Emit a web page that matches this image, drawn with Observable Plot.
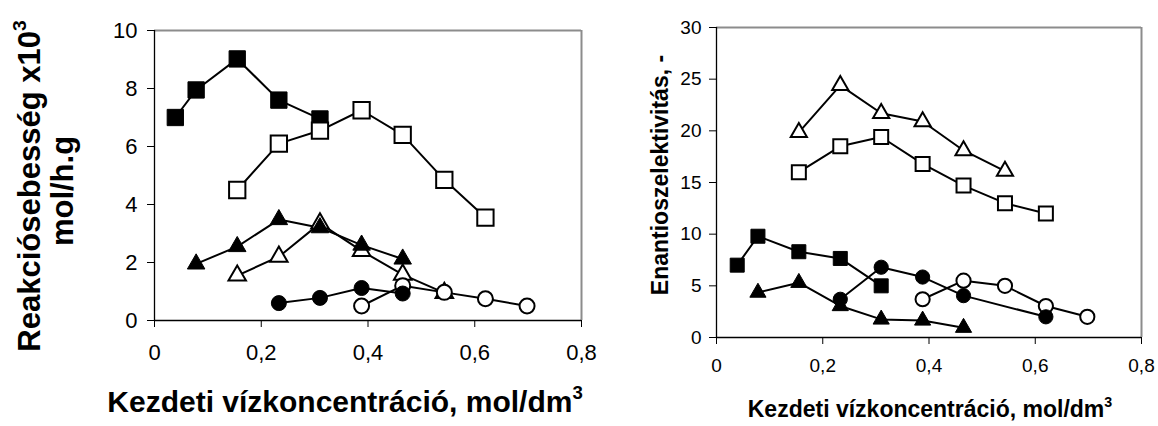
<!DOCTYPE html>
<html>
<head>
<meta charset="utf-8">
<script src="https://cdn.jsdelivr.net/npm/d3@7"></script>
<script src="https://cdn.jsdelivr.net/npm/@observablehq/plot@0.6"></script>
<style>
  html, body { margin: 0; padding: 0; background: #fff; }
  #wrap { position: relative; width: 1158px; height: 426px; overflow: hidden; }
  #left, #right { position: absolute; top: 0; }
  #left { left: 0; }
  #right { left: 600px; }
  svg text { font-family: "Liberation Sans", Arial, sans-serif; }
</style>
</head>
<body>
<div id="wrap"><div id="left"></div><div id="right"></div></div>
<script>
// ---- shared axis ticks ----
const xTicks = [0, 0.2, 0.4, 0.6, 0.8];
const xTickLabels = ["0", "0,2", "0,4", "0,6", "0,8"];
const rateTicks = [0, 2, 4, 6, 8, 10];
const selTicks = [0, 5, 10, 15, 20, 25, 30];

// ---- left panel: Reakciósebesség x10^3 (mol/h.g) ----
const rateFilledSquareX = [0.039, 0.078, 0.155, 0.233, 0.31];
const rateFilledSquareY = [7.0, 7.95, 9.02, 7.6, 6.95];
const rateOpenSquareX = [0.155, 0.233, 0.31, 0.388, 0.465, 0.543, 0.62];
const rateOpenSquareY = [4.5, 6.1, 6.55, 7.25, 6.4, 4.85, 3.55];
const rateFilledTriangleX = [0.078, 0.155, 0.233, 0.31, 0.388, 0.465];
const rateFilledTriangleY = [1.95, 2.55, 3.48, 3.2, 2.6, 2.12];
const rateOpenTriangleX = [0.155, 0.233, 0.31, 0.388, 0.465, 0.543];
const rateOpenTriangleY = [1.55, 2.2, 3.35, 2.4, 1.58, 0.95];
const rateFilledCircleX = [0.233, 0.31, 0.388, 0.465];
const rateFilledCircleY = [0.6, 0.78, 1.12, 0.93];
const rateOpenCircleX = [0.388, 0.465, 0.543, 0.62, 0.698];
const rateOpenCircleY = [0.5, 1.2, 0.97, 0.75, 0.5];

// ---- right panel: Enantioszelektivitás ----
const selOpenTriangleX = [0.155, 0.233, 0.31, 0.388, 0.465, 0.543];
const selOpenTriangleY = [19.85, 24.4, 21.7, 20.9, 18.1, 16.1];
const selOpenSquareX = [0.155, 0.233, 0.31, 0.388, 0.465, 0.543, 0.62];
const selOpenSquareY = [16.0, 18.5, 19.4, 16.8, 14.7, 13.0, 12.0];
const selFilledSquareX = [0.039, 0.078, 0.155, 0.233, 0.31];
const selFilledSquareY = [7.0, 9.8, 8.3, 7.65, 5.0];
const selFilledCircleX = [0.233, 0.31, 0.388, 0.465, 0.62];
const selFilledCircleY = [3.7, 6.8, 5.85, 4.05, 2.0];
const selOpenCircleX = [0.388, 0.465, 0.543, 0.62, 0.698];
const selOpenCircleY = [3.7, 5.5, 5.0, 3.05, 2.0];
const selFilledTriangleX = [0.078, 0.155, 0.233, 0.31, 0.388, 0.465];
const selFilledTriangleY = [4.35, 5.3, 3.05, 1.75, 1.65, 0.95];

const zip = (xs, ys) => xs.map((x, i) => ({x, y: ys[i]}));

function seriesMarks(list, sizes) {
  const marks = [];
  for (const s of list) {
    marks.push(Plot.line(s.data, {x: "x", y: "y", stroke: "#000", strokeWidth: 2}));
  }
  for (const s of list) {
    const filled = s.filled;
    marks.push(Plot.dot(s.data, {
      x: "x", y: "y", symbol: s.symbol, r: sizes[s.symbol],
      fill: filled ? "#000" : "#fff", stroke: "#000",
      strokeWidth: filled ? 1 : 2, strokeLinejoin: "miter"
    }));
  }
  return marks;
}

function panel({width, height, ml, mr, mt, mb, yDomain, yTicks, data, sizes, fs}) {
  return Plot.plot({
    width, height,
    marginLeft: ml, marginRight: mr, marginTop: mt, marginBottom: mb,
    style: {fontFamily: "Liberation Sans, Arial, sans-serif", background: "#fff", overflow: "visible"},
    x: {domain: [0, 0.8]},
    y: {domain: yDomain},
    marks: [
      Plot.ruleY([yDomain[1]], {stroke: "#8c8c8c", strokeWidth: 2}),
      Plot.ruleX([0.8], {stroke: "#8c8c8c", strokeWidth: 2}),
      Plot.ruleX([0], {stroke: "#000", strokeWidth: 1.3}),
      Plot.ruleY([0], {stroke: "#000", strokeWidth: 1.3}),
      Plot.axisX({ticks: xTicks, tickFormat: (d, i) => xTickLabels[i], tickSize: 7, tickPadding: fs.xpad,
        fontSize: fs.tick, label: null, stroke: "#000"}),
      Plot.axisY({ticks: yTicks, tickFormat: d => String(d), tickSize: 7, tickPadding: fs.ypad,
        fontSize: fs.tick, label: null, stroke: "#000"}),
      ...seriesMarks(data, sizes)
    ]
  });
}

const leftData = [
  {data: zip(rateFilledSquareX, rateFilledSquareY), symbol: "square", filled: true},
  {data: zip(rateOpenSquareX, rateOpenSquareY), symbol: "square", filled: false},
  {data: zip(rateOpenTriangleX, rateOpenTriangleY), symbol: "triangle", filled: false},
  {data: zip(rateFilledTriangleX, rateFilledTriangleY), symbol: "triangle", filled: true},
  {data: zip(rateOpenCircleX, rateOpenCircleY), symbol: "circle", filled: false},
  {data: zip(rateFilledCircleX, rateFilledCircleY), symbol: "circle", filled: true}
];
const rightData = [
  {data: zip(selOpenTriangleX, selOpenTriangleY), symbol: "triangle", filled: false},
  {data: zip(selOpenSquareX, selOpenSquareY), symbol: "square", filled: false},
  {data: zip(selFilledSquareX, selFilledSquareY), symbol: "square", filled: true},
  {data: zip(selOpenCircleX, selOpenCircleY), symbol: "circle", filled: false},
  {data: zip(selFilledCircleX, selFilledCircleY), symbol: "circle", filled: true},
  {data: zip(selFilledTriangleX, selFilledTriangleY), symbol: "triangle", filled: true}
];

const left = panel({width: 600, height: 426, ml: 154, mr: 19, mt: 30, mb: 106,
  yDomain: [0, 10], yTicks: rateTicks, data: leftData,
  sizes: {square: 9.2, triangle: 6.5, circle: 7.5}, fs: {tick: 22, xpad: 17, ypad: 10}});
const right = panel({width: 558, height: 426, ml: 116, mr: 17, mt: 27, mb: 89,
  yDomain: [0, 30], yTicks: selTicks, data: rightData,
  sizes: {square: 7.9, triangle: 6.0, circle: 7.1}, fs: {tick: 19, xpad: 14, ypad: 8}});

document.getElementById("left").appendChild(left);
document.getElementById("right").appendChild(right);

// axis titles (real text)
function addText(svg, {x, y, rotate = 0, size, parts, anchor = "middle"}) {
  const t = d3.select(svg).append("text")
    .attr("transform", `translate(${x},${y}) rotate(${rotate})`)
    .attr("text-anchor", anchor)
    .attr("font-family", "Liberation Sans, Arial, sans-serif")
    .attr("font-weight", "bold")
    .attr("font-size", size)
    .attr("fill", "#000");
  for (const p of parts) {
    const ts = t.append("tspan").text(p.text);
    if (p.sup) ts.attr("font-size", size * 0.62).attr("dy", -size * 0.45);
  }
  return t;
}
addText(left, {x: 40, y: 186, rotate: -90, size: 31, parts: [{text: "Reakciósebesség x10"}, {text: "3", sup: true}]});
addText(left, {x: 73, y: 191, rotate: -90, size: 31, parts: [{text: "mol/h.g"}]});
addText(left, {x: 345, y: 412, size: 30, parts: [{text: "Kezdeti vízkoncentráció, mol/dm"}, {text: "3", sup: true}]});
addText(right, {x: 68, y: 175, rotate: -90, size: 23, parts: [{text: "Enantioszelektivitás, -"}]});
addText(right, {x: 330, y: 417, size: 23, parts: [{text: "Kezdeti vízkoncentráció, mol/dm"}, {text: "3", sup: true}]});
</script>
</body>
</html>
